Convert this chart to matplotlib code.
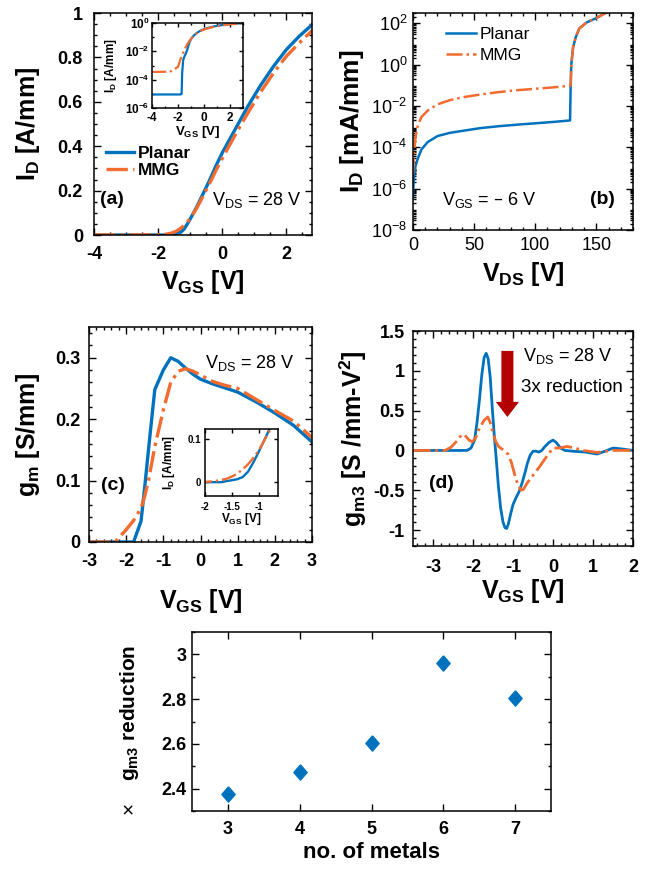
import numpy as np
import matplotlib
matplotlib.use("Agg")
import matplotlib.pyplot as plt
from matplotlib.ticker import AutoMinorLocator, FuncFormatter, LogLocator, NullFormatter
from matplotlib.transforms import blended_transform_factory

plt.rcParams['font.family'] = ['Liberation Sans', 'DejaVu Sans']
plt.rcParams['font.weight'] = 'bold'
plt.rcParams['mathtext.default'] = 'regular'
plt.rcParams['axes.unicode_minus'] = False

BLUE = '#0072BD'
ORANGE = '#F26B2F'
ARROW = '#B40000'

# ---- data: transfer curve I_D(V_GS) at V_DS = 28 V, A/mm ----
vgs_id = [-4, -3, -2.5, -2.0, -1.9, -1.8, -1.72, -1.68, -1.6, -1.5, -1.4, -1.3, -1.2,
          -1.1, -1.0, -0.9, -0.8, -0.6, -0.4, -0.2, 0, 0.4, 0.8, 1.2, 1.6, 2.0, 2.4, 2.8, 3.0]
id_planar = [9e-6, 9e-6, 9e-6, 9e-6, 9e-6, 9e-6, 1e-5, 3e-4, 2.5e-3, 4.5e-3, 7e-3, 0.012, 0.025,
             0.047, 0.072, 0.098, 0.125, 0.185, 0.245, 0.31, 0.37, 0.475, 0.58, 0.675, 0.76,
             0.835, 0.895, 0.947, 0.97]
id_mmg = [3.5e-4, 3.6e-4, 4e-4, 8e-4, 1.5e-3, 3e-3, 4.5e-3, 5.5e-3, 8e-3, 0.013, 0.02, 0.03, 0.042,
          0.057, 0.075, 0.097, 0.12, 0.175, 0.23, 0.29, 0.345, 0.45, 0.55, 0.645, 0.73,
          0.805, 0.865, 0.92, 0.945]

# ---- data: off-state I_D(V_DS) at V_GS = -6 V, mA/mm ----
vds = [0, 0.5, 1, 2, 4, 7, 12, 20, 30, 40, 55, 70, 85, 100, 115, 128.5, 129, 129.5,
       131, 133, 136, 142, 150, 158, 165]
off_planar = [4e-7, 2e-6, 5e-6, 1.2e-5, 3e-5, 8e-5, 1.8e-4, 3.5e-4, 5e-4, 6.2e-4, 8.5e-4,
              1.05e-3, 1.25e-3, 1.45e-3, 1.7e-3, 2e-3, 0.1, 1, 7, 20, 56, 110, 180, 330, 500]
off_mmg = [5e-6, 2e-5, 6e-5, 3e-4, 1.2e-3, 3e-3, 6e-3, 1.2e-2, 1.9e-2, 2.6e-2, 3.6e-2,
           4.7e-2, 5.8e-2, 6.8e-2, 8e-2, 0.095, 0.1, 1, 7, 20, 56, 110, 180, 330, 500]

# ---- data: transconductance gm, S/mm ----
vgs_gm = [-3, -2.3, -2.0, -1.8, -1.6, -1.5, -1.4, -1.23, -1.0, -0.8, -0.6, -0.4, -0.2, 0,
          0.3, 0.6, 1.0, 1.5, 2.0, 2.5, 3.0]
gm_planar = [0, 0, 0, 0, 0.034, 0.09, 0.15, 0.248, 0.28, 0.30, 0.294, 0.283, 0.273, 0.265,
             0.258, 0.252, 0.244, 0.228, 0.21, 0.19, 0.163]
gm_mmg = [0, 0, 0.02, 0.035, 0.055, 0.075, 0.10, 0.155, 0.215, 0.26, 0.278, 0.282, 0.278,
          0.272, 0.262, 0.256, 0.25, 0.232, 0.214, 0.197, 0.17]

# ---- data: gm3, S/mm-V^2 ----
vgs_g3_planar = [-3.5, -2.5, -2.15, -2.05, -1.96, -1.9, -1.84, -1.78, -1.72, -1.67, -1.62,
                 -1.57, -1.52, -1.47, -1.42, -1.37, -1.31, -1.25, -1.2, -1.16, -1.12, -1.06,
                 -1.0, -0.93, -0.85, -0.78, -0.7, -0.64, -0.57, -0.5, -0.42, -0.35, -0.28,
                 -0.2, -0.1, 0.0, 0.08, 0.19, 0.3, 0.5, 0.8, 1.1, 1.3, 1.5, 1.7, 2.0]
g3_planar = [0, 0, 0, 0.03, 0.13, 0.35, 0.63, 0.95, 1.17, 1.22, 1.15, 0.92, 0.55, 0.2, -0.1,
             -0.42, -0.72, -0.9, -0.97, -0.98, -0.93, -0.8, -0.68, -0.6, -0.52, -0.42, -0.28,
             -0.16, -0.06, -0.01, -0.01, -0.02, 0.0, 0.05, 0.1, 0.13, 0.1, 0.03, 0.0, -0.01,
             -0.02, -0.045, -0.01, 0.03, 0.02, 0]
vgs_g3_mmg = [-3.5, -2.7, -2.55, -2.4, -2.28, -2.2, -2.1, -2.02, -1.94, -1.84, -1.72, -1.63,
              -1.57, -1.5, -1.43, -1.36, -1.28, -1.2, -1.12, -1.04, -0.96, -0.88, -0.8, -0.74,
              -0.66, -0.56, -0.45, -0.33, -0.22, -0.12, 0.0, 0.15, 0.35, 0.55, 0.75, 1.1, 1.5, 2.0]
g3_mmg = [0, 0, 0.04, 0.12, 0.2, 0.19, 0.13, 0.11, 0.15, 0.28, 0.38, 0.42, 0.35, 0.22, 0.11,
          0.05, 0.02, -0.01, -0.05, -0.15, -0.3, -0.43, -0.5, -0.49, -0.42, -0.35, -0.28, -0.2,
          -0.12, -0.05, 0.03, 0.03, 0.05, 0.03, 0.0, -0.025, 0.0, 0.0]

# ---- data: gm3 reduction vs number of metals ----
n_metals = [3, 4, 5, 6, 7]
reduction = [2.378, 2.476, 2.606, 2.96, 2.806]

W, H = 651, 874
fig = plt.figure(figsize=(W / 100, H / 100), dpi=100)


def box(l, t, r, b):
    return [l / W, 1 - b / H, (r - l) / W, (b - t) / H]


def fx(x):
    return x / W


def fy(y):
    return 1 - y / H


gfmt = FuncFormatter(lambda v, p: '%g' % v)


def style(ax, fs=13, xpad=6, ypad=5, major=5, minor=2.5):
    ax.tick_params(which='both', direction='in', top=True, right=True, width=1)
    ax.tick_params(which='major', length=major, labelsize=fs)
    ax.tick_params(which='minor', length=minor)
    ax.tick_params(axis='x', pad=xpad)
    ax.tick_params(axis='y', pad=ypad)
    for s in ax.spines.values():
        s.set_linewidth(1.1)


def ylab(ax, text, x_px, fs=18):
    ax.set_ylabel(text, fontsize=fs, fontweight='bold')
    ax.yaxis.set_label_coords(fx(x_px), 0.5,
                              transform=blended_transform_factory(fig.transFigure, ax.transAxes))


def xlab(ax, text, y_px, fs=18):
    ax.set_xlabel(text, fontsize=fs, fontweight='bold')
    ax.xaxis.set_label_coords(0.5, fy(y_px),
                              transform=blended_transform_factory(ax.transAxes, fig.transFigure))


# =========================
# (a) linear transfer curve
# =========================
ax_a = fig.add_axes(box(94, 13, 312, 235))
ax_a.plot(vgs_id, id_planar, color=BLUE, lw=2.4, label='Planar')
ax_a.plot(vgs_id, id_mmg, color=ORANGE, lw=2.4, ls='-.', label='MMG')
ax_a.set_xlim(-4, 2.8)
ax_a.set_ylim(0, 1)
ax_a.set_xticks([-4, -2, 0, 2])
ax_a.set_yticks([0, 0.2, 0.4, 0.6, 0.8, 1])
ax_a.yaxis.set_major_formatter(gfmt)
ax_a.xaxis.set_minor_locator(AutoMinorLocator(4))
ax_a.yaxis.set_minor_locator(AutoMinorLocator(4))
style(ax_a, xpad=8, ypad=8)
ylab(ax_a, 'I$_D$ [A/mm]', 42)
xlab(ax_a, 'V$_{GS}$ [V]', 268)
ax_a.legend(loc='center left', bbox_to_anchor=(fx(106), fy(162)), bbox_transform=fig.transFigure,
            frameon=False, borderpad=0, borderaxespad=0, handlelength=1.6, handletextpad=0.25,
            labelspacing=0.1, prop={'size': 12.5, 'weight': 'bold'})
fig.text(fx(112), fy(200), '(a)', fontsize=14, fontweight='bold', ha='center', va='center')
fig.text(fx(302), fy(200), 'V$_{DS}$ = 28 V', fontsize=13, fontweight='normal',
         ha='right', va='center')

# inset: log scale
ax_ai = fig.add_axes(box(152, 23, 243, 108))
ax_ai.semilogy(vgs_id, id_planar, color=BLUE, lw=1.6)
ax_ai.semilogy(vgs_id, id_mmg, color=ORANGE, lw=1.6, ls='-.')
ax_ai.set_xlim(-4, 3)
ax_ai.set_ylim(1e-6, 1)
ax_ai.set_xticks([-4, -2, 0, 2])
ax_ai.set_yticks([1e-6, 1e-4, 1e-2, 1])
ax_ai.yaxis.set_minor_locator(LogLocator(base=10, subs=[1.0], numticks=20))
ax_ai.yaxis.set_minor_formatter(NullFormatter())
ax_ai.xaxis.set_minor_locator(AutoMinorLocator(2))
style(ax_ai, fs=8.5, xpad=3, ypad=2, major=3, minor=1.5)
ylab(ax_ai, 'I$_D$ [A/mm]', 119, fs=8.5)
xlab(ax_ai, 'V$_{GS}$ [V]', 124, fs=9.5)

# =========================
# (b) off-state leakage
# =========================
ax_b = fig.add_axes(box(413, 13, 633, 230))
ax_b.semilogy(vds, off_planar, color=BLUE, lw=1.8, label='Planar')
ax_b.semilogy(vds, off_mmg, color=ORANGE, lw=1.8, ls='-.', label='MMG')
ax_b.set_xlim(0, 180)
ax_b.set_ylim(1e-8, 10 ** 2.5)
ax_b.set_xticks([0, 50, 100, 150])
ax_b.set_yticks([1e-8, 1e-6, 1e-4, 1e-2, 1, 1e2])
ax_b.xaxis.set_minor_locator(AutoMinorLocator(5))
ax_b.yaxis.set_minor_locator(LogLocator(base=10, subs=np.arange(2, 10), numticks=100))
ax_b.yaxis.set_minor_formatter(NullFormatter())
style(ax_b, xpad=5, ypad=4)
for t in ax_b.get_xticklabels() + ax_b.get_yticklabels():
    t.set_fontweight('normal')
ylab(ax_b, 'I$_D$ [mA/mm]', 366, fs=19)
xlab(ax_b, 'V$_{DS}$ [V]', 260)
ax_b.legend(loc='center left', bbox_to_anchor=(fx(446), fy(45)), bbox_transform=fig.transFigure,
            frameon=False, borderpad=0, borderaxespad=0, handlelength=1.75, handletextpad=0.2,
            labelspacing=0.3, prop={'size': 12.5, 'weight': 'normal'})
fig.text(fx(442), fy(200), 'V$_{GS}$ = – 6 V', fontsize=13, fontweight='normal',
         ha='left', va='center')
fig.text(fx(615), fy(200), '(b)', fontsize=14, fontweight='bold', ha='right', va='center')

# =========================
# (c) gm
# =========================
ax_c = fig.add_axes(box(89, 327, 312, 542))
ax_c.plot(vgs_gm, gm_planar, color=BLUE, lw=2.4)
ax_c.plot(vgs_gm, gm_mmg, color=ORANGE, lw=2.4, ls='-.')
ax_c.set_xlim(-3, 3)
ax_c.set_ylim(0, 0.35)
ax_c.set_xticks([-3, -2, -1, 0, 1, 2, 3])
ax_c.set_yticks([0, 0.1, 0.2, 0.3])
ax_c.yaxis.set_major_formatter(gfmt)
ax_c.xaxis.set_minor_locator(AutoMinorLocator(5))
ax_c.yaxis.set_minor_locator(AutoMinorLocator(5))
style(ax_c, xpad=8, ypad=6)
ylab(ax_c, 'g$_m$ [S/mm]', 42)
xlab(ax_c, 'V$_{GS}$ [V]', 587)
fig.text(fx(113), fy(485), '(c)', fontsize=14, fontweight='bold', ha='center', va='center')
fig.text(fx(295), fy(363), 'V$_{DS}$ = 28 V', fontsize=13, fontweight='normal',
         ha='right', va='center')

# inset: zoom of threshold region
ax_ci = fig.add_axes(box(205, 429, 278, 496))
ax_ci.plot(vgs_id, id_planar, color=BLUE, lw=1.7)
ax_ci.plot(vgs_id, id_mmg, color=ORANGE, lw=1.7, ls='-.')
ax_ci.set_xlim(-2, -0.65)
ax_ci.set_ylim(-0.032, 0.123)
ax_ci.set_xticks([-2, -1.5, -1])
ax_ci.set_yticks([0, 0.1])
ax_ci.yaxis.set_major_formatter(gfmt)
ax_ci.xaxis.set_major_formatter(gfmt)
style(ax_ci, fs=7, xpad=4, ypad=3, major=3, minor=1.5)
ylab(ax_ci, 'I$_D$ [A/mm]', 177, fs=8.5)
xlab(ax_ci, 'V$_{GS}$ [V]', 511, fs=8.5)

# =========================
# (d) gm3
# =========================
ax_d = fig.add_axes(box(413, 331, 633, 546))
ax_d.plot(vgs_g3_planar, g3_planar, color=BLUE, lw=2.0)
ax_d.plot(vgs_g3_mmg, g3_mmg, color=ORANGE, lw=2.0, ls='-.')
ax_d.set_xlim(-3.5, 2)
ax_d.set_ylim(-1.2, 1.5)
ax_d.set_xticks([-3, -2, -1, 0, 1, 2])
ax_d.set_yticks([-1, -0.5, 0, 0.5, 1, 1.5])
ax_d.yaxis.set_major_formatter(gfmt)
ax_d.xaxis.set_minor_locator(AutoMinorLocator(5))
ax_d.yaxis.set_minor_locator(AutoMinorLocator(5))
style(ax_d, xpad=9, ypad=6)
ylab(ax_d, 'g$_{m3}$ [S /mm-V$^2$]', 369)
xlab(ax_d, 'V$_{GS}$ [V]', 577)
ax_d.arrow(-1.14, 1.25, 0, 0.42 - 1.25, width=0.3, head_width=0.58, head_length=0.19,
           length_includes_head=True, color=ARROW, lw=0)
fig.text(fx(613), fy(356), 'V$_{DS}$ = 28 V', fontsize=13, fontweight='normal',
         ha='right', va='center')
fig.text(fx(623), fy(387), '3x reduction', fontsize=13.5, fontweight='normal',
         ha='right', va='center')
fig.text(fx(441), fy(483), '(d)', fontsize=14, fontweight='bold', ha='center', va='center')

# =========================
# (e) gm3 reduction vs no. of metals
# =========================
ax_e = fig.add_axes(box(192, 632, 551, 811))
diamond = [(0, 1), (0.87, 0), (0, -1), (-0.87, 0), (0, 1)]
ax_e.plot(n_metals, reduction, ls='none', marker=diamond, ms=11, color=BLUE, mec=BLUE)
ax_e.set_xlim(2.5, 7.5)
ax_e.set_ylim(2.3, 3.1)
ax_e.set_xticks([3, 4, 5, 6, 7])
ax_e.set_yticks([2.4, 2.6, 2.8, 3.0])
ax_e.yaxis.set_major_formatter(gfmt)
ax_e.yaxis.set_minor_locator(AutoMinorLocator(2))
style(ax_e, fs=13, xpad=7, ypad=4)
ax_e.set_ylabel('g$_{m3}$ reduction', fontsize=15, fontweight='bold')
ax_e.yaxis.set_label_coords(fx(141), fy(713),
                            transform=blended_transform_factory(fig.transFigure, fig.transFigure))
fig.text(fx(129), fy(808), '×', fontsize=15, fontweight='normal', rotation=90,
         ha='center', va='center')
xlab(ax_e, 'no. of metals', 842, fs=16)

fig.savefig('out.png', dpi=100)
